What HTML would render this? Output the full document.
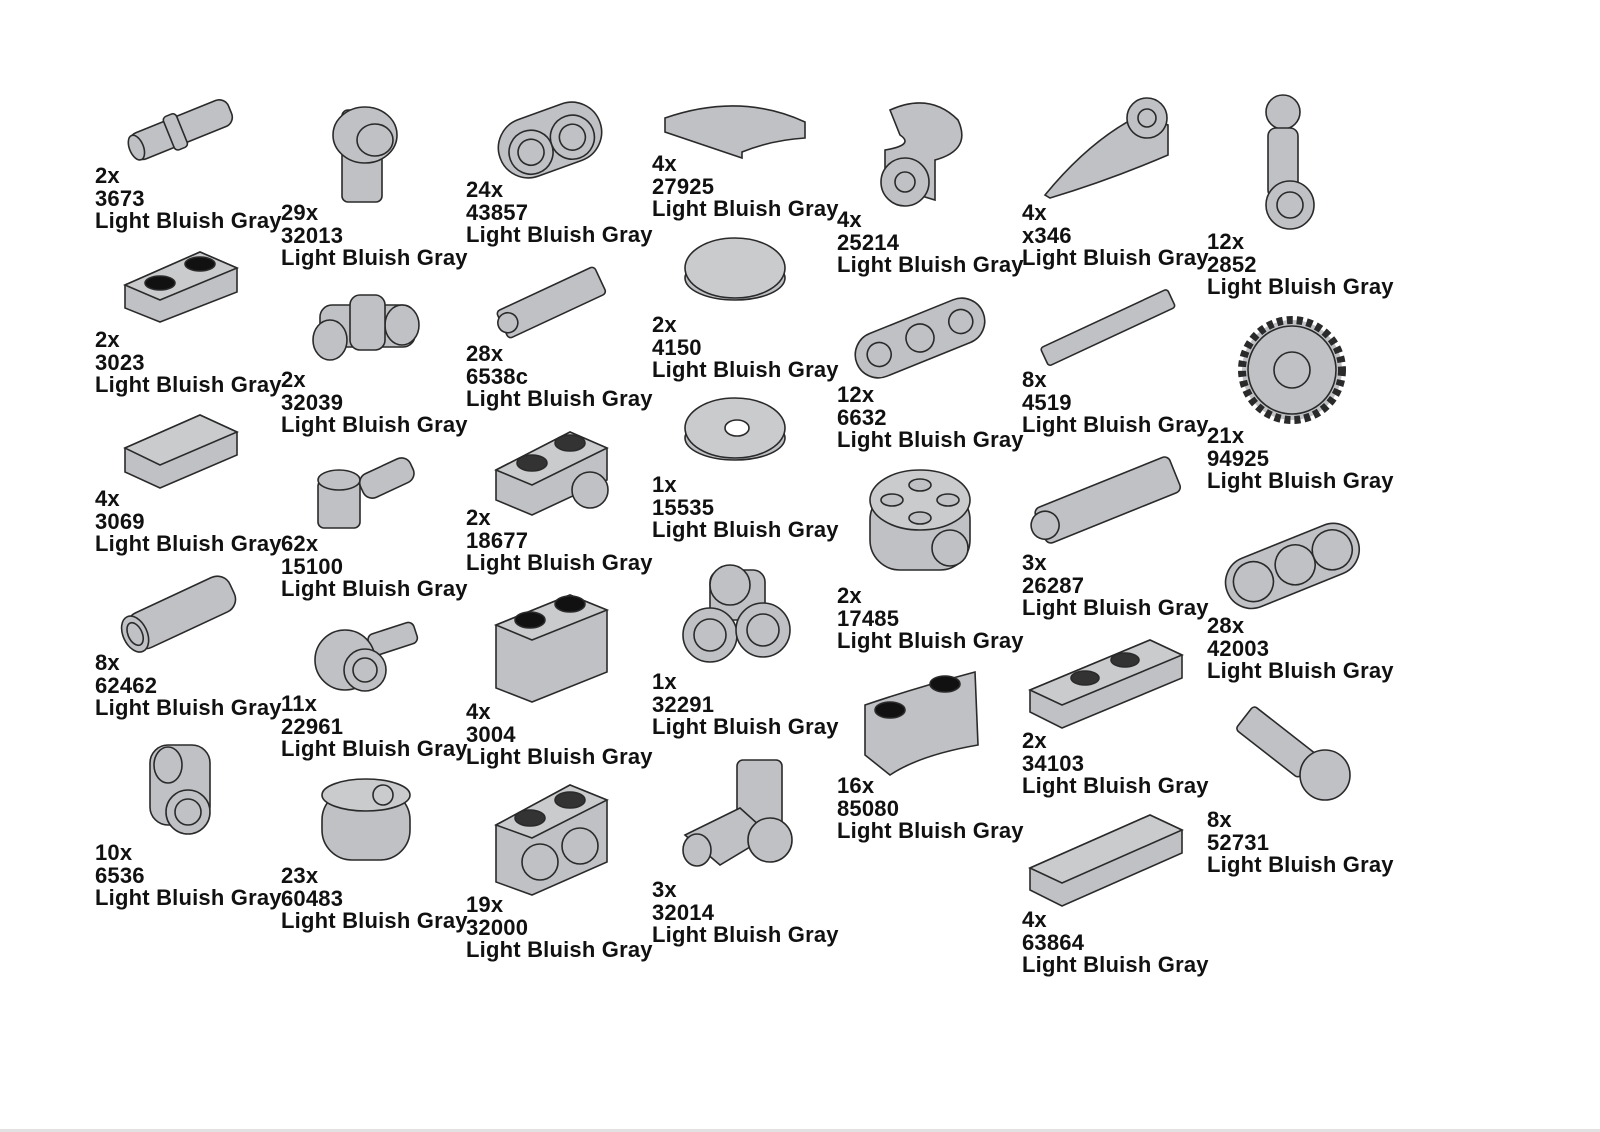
<!DOCTYPE html>
<html><head><meta charset="utf-8"><style>
body{margin:0;background:#fff;}
#w{position:relative;width:1600px;height:1132px;overflow:hidden;background:#fff;border-bottom:3px solid #e2e2e2;box-sizing:border-box;}
.t{position:absolute;font-family:"Liberation Sans",sans-serif;font-weight:bold;font-size:22px;letter-spacing:0.2px;line-height:22.6px;color:#111;white-space:nowrap;}
svg{position:absolute;left:0;top:0;}
</style></head><body><div id="w">
<svg width="1600" height="1132" viewBox="0 0 1600 1132">
<g fill="#bfc1c4" stroke="#2a2a2a" stroke-width="1.6">
<g transform="rotate(-22 180 130)"><rect x="128" y="116" width="106" height="28" rx="10"/><rect x="168" y="112" width="14" height="36" rx="4"/><ellipse cx="133" cy="130" rx="7" ry="13"/></g>
<polygon points="125,285 200,252 237,268 237,292 160,322 125,308"/><polygon points="125,285 200,252 237,268 160,300" fill="#c9cbcd"/>
<ellipse cx="160" cy="283" rx="15" ry="7" fill="#111"/><ellipse cx="200" cy="264" rx="15" ry="7" fill="#111"/>
<polygon points="125,448 200,415 237,432 237,455 160,488 125,472"/><polygon points="125,448 200,415 237,432 160,465" fill="#c9cbcd"/>
<g transform="rotate(-25 180 612)"><rect x="125" y="594" width="112" height="38" rx="14"/><ellipse cx="130" cy="613" rx="12" ry="19"/><ellipse cx="130" cy="613" rx="7" ry="12" fill="none"/></g>
<rect x="150" y="745" width="60" height="80" rx="18"/><circle cx="188" cy="812" r="22"/><circle cx="188" cy="812" r="13" fill="none"/><ellipse cx="168" cy="765" rx="14" ry="18"/>
<rect x="342" y="110" width="40" height="92" rx="6"/><ellipse cx="365" cy="135" rx="32" ry="28"/><ellipse cx="375" cy="140" rx="18" ry="16" fill="none"/>
<rect x="320" y="305" width="95" height="42" rx="12"/><ellipse cx="330" cy="340" rx="17" ry="20"/><ellipse cx="402" cy="325" rx="17" ry="20"/><rect x="350" y="295" width="35" height="55" rx="10"/>
<rect x="318" y="480" width="42" height="48" rx="6"/><ellipse cx="339" cy="480" rx="21" ry="10"/><g transform="rotate(-25 385 480)"><rect x="360" y="466" width="55" height="26" rx="10"/></g>
<g transform="rotate(-18 380 645)"><rect x="370" y="632" width="48" height="22" rx="6"/></g><circle cx="345" cy="660" r="30"/><circle cx="365" cy="670" r="21"/><circle cx="365" cy="670" r="12" fill="none"/>
<rect x="322" y="790" width="88" height="70" rx="30"/><ellipse cx="366" cy="795" rx="44" ry="16" fill="#c9cbcd"/><circle cx="383" cy="795" r="10" fill="none"/>
<g transform="rotate(-20 550 140)"><rect x="497" y="110" width="106" height="60" rx="30"/><circle cx="528" cy="145" r="22"/><circle cx="572" cy="145" r="22"/><circle cx="528" cy="145" r="13" fill="none"/><circle cx="572" cy="145" r="13" fill="none"/></g>
<g transform="rotate(-25 550 302)"><rect x="497" y="288" width="108" height="30" rx="4"/><circle cx="503" cy="303" r="10"/></g>
<polygon points="496,470 570,432 607,448 607,480 532,515 496,500"/><polygon points="496,470 570,432 607,448 532,485" fill="#c9cbcd"/>
<ellipse cx="532" cy="463" rx="15" ry="8" fill="#333"/><ellipse cx="570" cy="443" rx="15" ry="8" fill="#333"/><circle cx="590" cy="490" r="18"/>
<polygon points="496,625 570,595 607,610 607,672 532,702 496,688"/><polygon points="496,625 570,595 607,610 532,640" fill="#c9cbcd"/>
<ellipse cx="530" cy="620" rx="15" ry="8" fill="#111"/><ellipse cx="570" cy="604" rx="15" ry="8" fill="#111"/>
<polygon points="496,825 570,785 607,800 607,862 532,895 496,882"/><polygon points="496,825 570,785 607,800 532,838" fill="#c9cbcd"/>
<ellipse cx="530" cy="818" rx="15" ry="8" fill="#333"/><ellipse cx="570" cy="800" rx="15" ry="8" fill="#333"/><circle cx="540" cy="862" r="18"/><circle cx="580" cy="846" r="18"/>
<path d="M665,118 Q740,92 805,122 L805,138 Q772,140 742,152 L742,158 L665,132 Z"/>
<ellipse cx="735" cy="278" rx="50" ry="22"/><ellipse cx="735" cy="268" rx="50" ry="30" fill="#c9cbcd"/>
<ellipse cx="735" cy="438" rx="50" ry="22"/><ellipse cx="735" cy="428" rx="50" ry="30" fill="#c9cbcd"/><ellipse cx="737" cy="428" rx="12" ry="8" fill="#fff"/>
<rect x="710" y="570" width="55" height="50" rx="12"/><circle cx="730" cy="585" r="20"/><circle cx="710" cy="635" r="27"/><circle cx="763" cy="630" r="27"/><circle cx="710" cy="635" r="16" fill="none"/><circle cx="763" cy="630" r="16" fill="none"/>
<rect x="737" y="760" width="45" height="85" rx="6"/><polygon points="685,835 740,808 770,835 720,865"/><circle cx="770" cy="840" r="22"/><ellipse cx="697" cy="850" rx="14" ry="16"/>
<path d="M890,110 Q930,92 958,120 Q972,150 935,160 L935,200 L885,185 L885,150 Q915,145 900,135 Z"/><circle cx="905" cy="182" r="24"/><circle cx="905" cy="182" r="10" fill="none"/>
<g transform="rotate(-22 920 338)"><rect x="852" y="315" width="136" height="46" rx="23"/><circle cx="920" cy="338" r="14"/><circle cx="876" cy="338" r="12" fill="none"/><circle cx="964" cy="338" r="12" fill="none"/></g>
<rect x="870" y="490" width="100" height="80" rx="30"/><ellipse cx="920" cy="500" rx="50" ry="30" fill="#c9cbcd"/><ellipse cx="892" cy="500" rx="11" ry="6"/><ellipse cx="948" cy="500" rx="11" ry="6"/><ellipse cx="920" cy="485" rx="11" ry="6"/><ellipse cx="920" cy="518" rx="11" ry="6"/><circle cx="950" cy="548" r="18"/>
<path d="M865,705 Q915,688 975,672 L978,745 Q920,755 890,775 L865,755 Z"/><ellipse cx="890" cy="710" rx="15" ry="8" fill="#111"/><ellipse cx="945" cy="684" rx="15" ry="8" fill="#111"/>
<path d="M1045,195 Q1090,140 1140,115 L1168,125 L1168,155 Q1110,180 1050,198 Z"/><circle cx="1147" cy="118" r="20"/><circle cx="1147" cy="118" r="9" fill="none"/>
<g transform="rotate(-25 1107 328)"><rect x="1038" y="318" width="140" height="20" rx="3"/></g>
<g transform="rotate(-22 1105 500)"><rect x="1035" y="482" width="145" height="38" rx="6"/><circle cx="1040" cy="501" r="14"/></g>
<polygon points="1030,690 1150,640 1182,655 1182,678 1062,728 1030,712"/><polygon points="1030,690 1150,640 1182,655 1062,705" fill="#c9cbcd"/>
<ellipse cx="1085" cy="678" rx="14" ry="7" fill="#333"/><ellipse cx="1125" cy="660" rx="14" ry="7" fill="#333"/>
<polygon points="1030,868 1150,815 1182,830 1182,853 1062,906 1030,890"/><polygon points="1030,868 1150,815 1182,830 1062,883" fill="#c9cbcd"/>
<circle cx="1283" cy="112" r="17"/><rect x="1268" y="128" width="30" height="70" rx="8"/><circle cx="1290" cy="205" r="24"/><circle cx="1290" cy="205" r="13" fill="none"/>
<circle cx="1292" cy="370" r="50" stroke-dasharray="6 4" stroke-width="8"/><circle cx="1292" cy="370" r="44"/><circle cx="1292" cy="370" r="18"/>
<g transform="rotate(-22 1292 565)"><rect x="1222" y="540" width="140" height="52" rx="26"/><circle cx="1250" cy="566" r="20"/><circle cx="1295" cy="566" r="20" fill="none"/><circle cx="1335" cy="566" r="20" fill="none"/></g>
<g transform="rotate(38 1280 745)"><rect x="1235" y="730" width="80" height="30" rx="4"/></g><circle cx="1325" cy="775" r="25"/>
</g>
</svg>
<div class="t" style="left:95px;top:165px">2x<br>3673<br>Light Bluish Gray</div>
<div class="t" style="left:95px;top:329px">2x<br>3023<br>Light Bluish Gray</div>
<div class="t" style="left:95px;top:488px">4x<br>3069<br>Light Bluish Gray</div>
<div class="t" style="left:95px;top:652px">8x<br>62462<br>Light Bluish Gray</div>
<div class="t" style="left:95px;top:842px">10x<br>6536<br>Light Bluish Gray</div>
<div class="t" style="left:281px;top:202px">29x<br>32013<br>Light Bluish Gray</div>
<div class="t" style="left:281px;top:369px">2x<br>32039<br>Light Bluish Gray</div>
<div class="t" style="left:281px;top:533px">62x<br>15100<br>Light Bluish Gray</div>
<div class="t" style="left:281px;top:693px">11x<br>22961<br>Light Bluish Gray</div>
<div class="t" style="left:281px;top:865px">23x<br>60483<br>Light Bluish Gray</div>
<div class="t" style="left:466px;top:179px">24x<br>43857<br>Light Bluish Gray</div>
<div class="t" style="left:466px;top:343px">28x<br>6538c<br>Light Bluish Gray</div>
<div class="t" style="left:466px;top:507px">2x<br>18677<br>Light Bluish Gray</div>
<div class="t" style="left:466px;top:701px">4x<br>3004<br>Light Bluish Gray</div>
<div class="t" style="left:466px;top:894px">19x<br>32000<br>Light Bluish Gray</div>
<div class="t" style="left:652px;top:153px">4x<br>27925<br>Light Bluish Gray</div>
<div class="t" style="left:652px;top:314px">2x<br>4150<br>Light Bluish Gray</div>
<div class="t" style="left:652px;top:474px">1x<br>15535<br>Light Bluish Gray</div>
<div class="t" style="left:652px;top:671px">1x<br>32291<br>Light Bluish Gray</div>
<div class="t" style="left:652px;top:879px">3x<br>32014<br>Light Bluish Gray</div>
<div class="t" style="left:837px;top:209px">4x<br>25214<br>Light Bluish Gray</div>
<div class="t" style="left:837px;top:384px">12x<br>6632<br>Light Bluish Gray</div>
<div class="t" style="left:837px;top:585px">2x<br>17485<br>Light Bluish Gray</div>
<div class="t" style="left:837px;top:775px">16x<br>85080<br>Light Bluish Gray</div>
<div class="t" style="left:1022px;top:202px">4x<br>x346<br>Light Bluish Gray</div>
<div class="t" style="left:1022px;top:369px">8x<br>4519<br>Light Bluish Gray</div>
<div class="t" style="left:1022px;top:552px">3x<br>26287<br>Light Bluish Gray</div>
<div class="t" style="left:1022px;top:730px">2x<br>34103<br>Light Bluish Gray</div>
<div class="t" style="left:1022px;top:909px">4x<br>63864<br>Light Bluish Gray</div>
<div class="t" style="left:1207px;top:231px">12x<br>2852<br>Light Bluish Gray</div>
<div class="t" style="left:1207px;top:425px">21x<br>94925<br>Light Bluish Gray</div>
<div class="t" style="left:1207px;top:615px">28x<br>42003<br>Light Bluish Gray</div>
<div class="t" style="left:1207px;top:809px">8x<br>52731<br>Light Bluish Gray</div>
</div></body></html>
